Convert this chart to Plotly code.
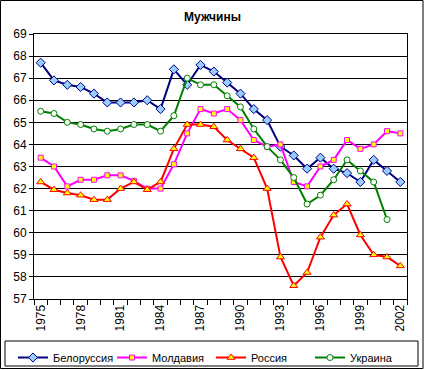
import plotly.graph_objects as go

years = list(range(1975, 2003))

belarus = [67.7, 66.9, 66.7, 66.6, 66.3, 65.9, 65.9, 65.9, 66.0, 65.6,
           67.4, 66.7, 67.6, 67.3, 66.8, 66.3, 65.6, 65.1, 63.9, 63.5,
           62.9, 63.4, 62.9, 62.7, 62.3, 63.3, 62.8, 62.3]
moldova = [63.4, 63.0, 62.1, 62.4, 62.4, 62.6, 62.6, 62.35, 62.0, 62.0,
           63.1, 64.5, 65.6, 65.4, 65.6, 65.1, 64.2, 63.9, 64.0, 62.3,
           62.1, 63.0, 63.3, 64.2, 63.8, 64.0, 64.6, 64.5]
russia = [62.3, 61.95, 61.8, 61.7, 61.5, 61.5, 62.0, 62.3, 61.95, 62.3,
          63.8, 64.9, 64.9, 64.8, 64.2, 63.8, 63.4, 62.0, 58.9, 57.6,
          58.2, 59.8, 60.8, 61.3, 59.9, 59.0, 58.9, 58.5]
ukraine = [65.5, 65.4, 65.0, 64.9, 64.7, 64.6, 64.7, 64.9, 64.9, 64.6,
           65.3, 67.0, 66.7, 66.7, 66.2, 65.7, 64.7, 63.9, 63.3, 62.5,
           61.3, 61.7, 62.4, 63.3, 62.8, 62.3, 60.6]

tick_years = [1975, 1978, 1981, 1984, 1987, 1990, 1993, 1996, 1999, 2002]
title_text = "Мужчины"

series = [
    ("Белоруссия", belarus, "#000080", "diamond", "#99CCFF", 7),
    ("Молдавия", moldova, "#FF00FF", "square", "#FFFF00", 5),
    ("Россия", russia, "#FF0000", "triangle-up", "#FFFF00", 7),
    ("Украина", ukraine, "#008000", "circle", "#FFFFFF", 6),
]

W, H = 425, 370
L, R, T, B = 34, 407, 34, 299
pw, ph = R - L, B - T


def px(x):
    return (x - L) / pw


def py(y):
    return (B - y) / ph


fig = go.Figure()
for name, vals, col, sym, fill, sz in series:
    fig.add_trace(go.Scatter(
        x=years[:len(vals)], y=vals, name=name, mode="lines+markers",
        line=dict(color=col, width=2),
        marker=dict(symbol=sym, size=sz, color=fill, line=dict(color=col, width=1)),
    ))

fig.update_layout(
    width=W, height=H,
    margin=dict(l=L, r=W - R, t=T, b=H - B, autoexpand=False),
    paper_bgcolor="white", plot_bgcolor="white",
    font=dict(family="Liberation Sans, Arial, sans-serif", size=12, color="black"),
    title=dict(text="<b>" + title_text + "</b>", x=0.5, xref="container", xanchor="center",
               y=1 - 17 / H, yref="container", yanchor="middle", font=dict(size=12)),
    showlegend=True,
    legend=dict(orientation="h", x=px(13), y=py(343), xanchor="left", yanchor="top",
                borderwidth=0, bgcolor="rgba(0,0,0,0)",
                font=dict(size=11), itemwidth=30, entrywidth=54, entrywidthmode="pixels"),
)

fig.update_xaxes(
    range=[1974.5, 2002.5], tickmode="array", tickvals=tick_years,
    ticktext=[str(y) for y in tick_years], tickangle=-90, ticks="",
    showgrid=False, zeroline=False, showline=True, linecolor="black", linewidth=1, mirror=True,
    minor=dict(tickvals=[y - 0.5 for y in years] + [2002.5], ticks="outside", ticklen=5,
               tickcolor="black", tickwidth=1, showgrid=False),
    fixedrange=True,
)
fig.update_yaxes(
    range=[57, 69], dtick=1, tick0=57, ticks="outside", ticklen=4, tickcolor="black",
    showgrid=True, gridcolor="black", gridwidth=1, zeroline=False,
    showline=True, linecolor="black", linewidth=1, mirror=True, fixedrange=True,
)

# outer chart frame
fig.add_shape(type="rect", xref="paper", yref="paper",
              x0=px(0.5), x1=px(423), y0=py(368.5), y1=py(0.5),
              line=dict(color="black", width=1), layer="below")
# legend frame
fig.add_shape(type="rect", xref="paper", yref="paper",
              x0=px(5), x1=px(418), y0=py(366), y1=py(341),
              line=dict(color="black", width=1), layer="below")

fig.write_html("out.html", config={"displayModeBar": False},
               post_script="document.body.style.margin='0';")
